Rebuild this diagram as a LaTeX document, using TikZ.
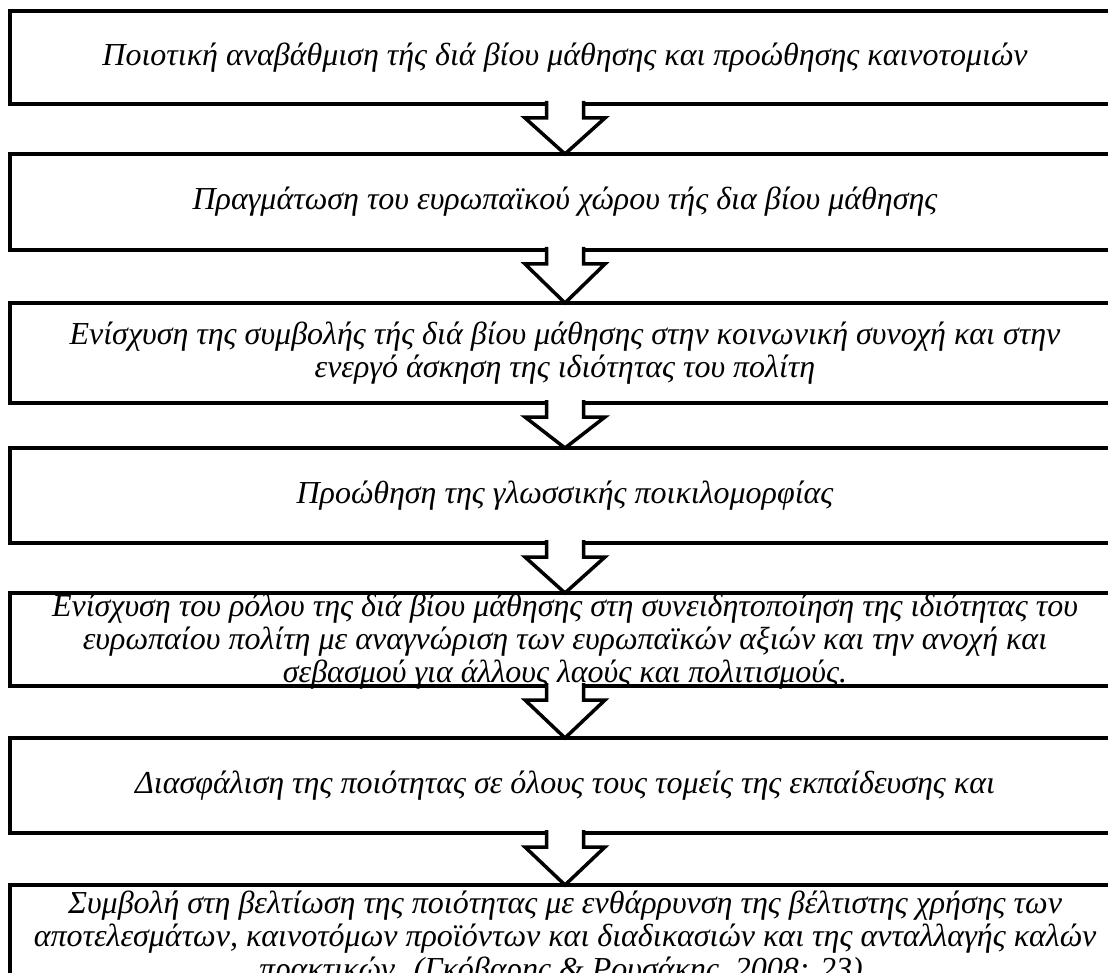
\documentclass[tikz,border=0pt]{standalone}
\usepackage{fontspec}
\setmainfont{Liberation Serif}
\usetikzlibrary{calc}

\tikzset{
  box/.style={draw, rectangle, line width=4.5pt, minimum width=1110pt, inner sep=0pt, outer sep=0pt},
  txt/.style={font=\fontsize{32}{33}\selectfont\itshape, align=center, inner sep=0pt},
  hollow/.style={draw, fill=white, line width=3.5pt, line join=miter},
}
\newcommand{\downblock}[2]{%
  \filldraw[hollow] ($(#1.south)+(-18.5,-3)$) -- ++(0,17) -- ++(-21.5,0) -- (#2.north)
    -- ($(#1.south)+(40,14)$) -- ++(-21.5,0) -- ++(0,-17);
}

\begin{document}
\begin{tikzpicture}[x=1pt,y=-1pt]
\useasboundingbox (0,0) rectangle (1108,973);
\clip (0,0) rectangle (1108,973);

\node[box, minimum height=93pt]  (b1) at (565,57.5) {};
\node[box, minimum height=96pt]  (b2) at (565,202) {};
\node[box, minimum height=100pt] (b3) at (565,353) {};
\node[box, minimum height=95pt]  (b4) at (565,495.5) {};
\node[box, minimum height=93pt]  (b5) at (565,639.5) {};
\node[box, minimum height=95pt]  (b6) at (565,785.5) {};
\node[box, minimum height=120pt] (b7) at (565,945) {};

\downblock{b1}{b2}
\downblock{b2}{b3}
\downblock{b3}{b4}
\downblock{b4}{b5}
\downblock{b5}{b6}
\downblock{b6}{b7}

\node[txt] (t1) at (b1) {Ποιοτική αναβάθμιση τής διά βίου μάθησης και προώθησης καινοτομιών};
\node[txt] (t2) at (b2) {Πραγμάτωση του ευρωπαϊκού χώρου τής δια βίου μάθησης};
\node[txt] (t3) at (b3) {Ενίσχυση της συμβολής τής διά βίου μάθησης στην κοινωνική συνοχή και στην\\
  ενεργό άσκηση της ιδιότητας του πολίτη};
\node[txt] (t4) at (b4) {Προώθηση της γλωσσικής ποικιλομορφίας};
\node[txt] (t5) at (565,641.5) {Ενίσχυση του ρόλου της διά βίου μάθησης στη συνειδητοποίηση της ιδιότητας του\\
  ευρωπαίου πολίτη με αναγνώριση των ευρωπαϊκών αξιών και την ανοχή και\\
  σεβασμού για άλλους λαούς και πολιτισμούς.};
\node[txt] (t6) at (b6) {Διασφάλιση της ποιότητας σε όλους τους τομείς της εκπαίδευσης και};
\node[txt, anchor=north] (t7) at (565,891) {Συμβολή στη βελτίωση της ποιότητας με ενθάρρυνση της βέλτιστης χρήσης των\\
  αποτελεσμάτων, καινοτόμων προϊόντων και διαδικασιών και της ανταλλαγής καλών\\
  πρακτικών. (Γκόβαρης \& Ρουσάκης, 2008: 23).};
\end{tikzpicture}
\end{document}
